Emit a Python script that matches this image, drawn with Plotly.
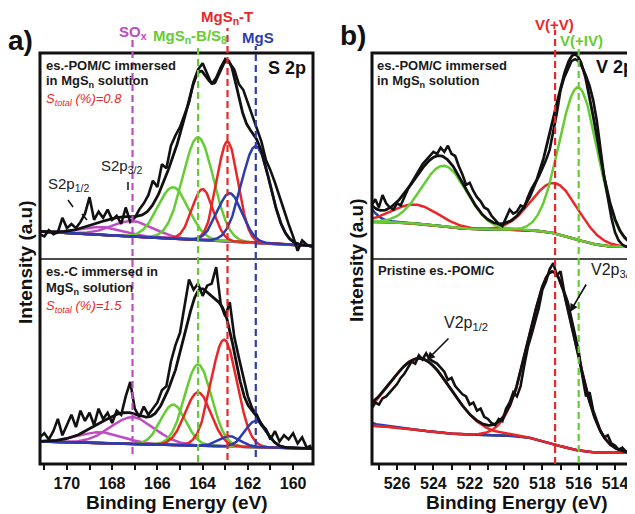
import numpy as np
import plotly.graph_objects as go

W, H = 635, 514
OFF = 8  # the page body margin shifts the figure by 8 px right and down

# ---------------- data ----------------
# Panel a) S 2p : raw spectra sampled every 0.2 eV from 171.2 to 159.2 eV
a_energy = np.linspace(171.2, 159.2, 61)
a_top_raw = [12, 11, 14, 12, 13, 20, 15, 17, 15, 18, 22, 30, 19, 23, 20, 24, 19, 21, 17, 25,
             18, 20, 24, 27, 31, 38, 35, 46, 44, 55, 60, 64, 70, 76, 86, 92, 95, 90, 85, 88,
             93, 97, 95, 92, 85, 82, 76, 70, 64, 57, 48, 43, 37, 30, 24, 17, 11, 4, 9, 7, 6]
a_bot_raw = [13, 15, 12, 16, 22, 14, 19, 24, 18, 26, 21, 25, 19, 27, 22, 25, 20, 26, 24, 33,
             40, 27, 23, 28, 24, 27, 30, 36, 38, 50, 58, 64, 76, 90, 85, 88, 82, 87, 88, 96,
             78, 72, 79, 62, 52, 43, 33, 27, 24, 19, 17, 12, 16, 11, 14, 12, 15, 10, 13, 8, 9]
# linear background (value at 171.2 eV, value at 159.2 eV)
a_top_bg = [13.3, 6.3]
a_bot_bg = [11.0, 7.5]
# fitted components: (centre eV, height above background, FWHM eV)
a_top_sox = [(167.1, 7.5, 2.2), (168.4, 3.8, 2.2)]
a_top_mgsn_b = [(164.2, 49.8, 1.6), (165.3, 25.0, 1.6)]
a_top_mgsn_t = [(162.9, 48.5, 1.1), (164.0, 24.8, 1.1)]
a_top_mgs = [(161.65, 47.0, 1.5), (162.8, 23.5, 1.3)]
a_bot_sox = [(167.1, 13.0, 2.3), (168.5, 5.3, 2.3)]
a_bot_mgsn_b = [(164.2, 39.6, 1.4), (165.3, 19.7, 1.3)]
a_bot_mgsn_t = [(163.05, 52.0, 1.35), (164.2, 26.0, 1.35)]
a_bot_mgs = [(161.65, 12.8, 1.1), (162.8, 5.0, 1.1)]
a_markers = [167.1, 164.2, 162.9, 161.65]   # SOx, MgSn-B/S8, MgSn-T, MgS

# Panel b) V 2p : raw spectra sampled every 0.2 eV from 527.4 to 513.0 eV
b_energy = np.linspace(527.4, 513.0, 73)
b_top_raw = [26, 29, 25, 31, 27, 25, 24, 27, 26, 30, 34, 37, 40, 43, 46, 48, 50, 52, 51, 54,
             52, 55, 51, 50, 45, 41, 36, 37, 33, 30, 28, 25, 24, 21, 19, 17, 16, 20, 24, 22,
             23, 26, 25, 30, 34, 37, 40, 44, 48, 53, 62, 71, 82, 88, 92, 96, 97, 96, 93, 89,
             84, 77, 67, 52, 40, 30, 20, 13, 9, 7, 6, 6, 5]
b_bot_raw = [27, 30, 29, 32, 33, 35, 37, 39, 42, 44, 47, 50, 49, 53, 51, 54, 51, 50, 49, 47,
             45, 41, 42, 38, 36, 34, 33, 29, 30, 26, 27, 23, 22, 20, 19, 22, 21, 27, 30, 35,
             33, 38, 48, 57, 63, 69, 76, 85, 89, 95, 98, 92, 94, 84, 79, 71, 63, 55, 43, 33,
             35, 26, 21, 16, 13, 14, 10, 9, 7, 8, 6, 5, 5]
# Shirley background (high-BE level, low-BE level)
b_top_bg = [18.0, 5.8]
b_bot_bg = [18.6, 5.4]
b_top_v5 = [(517.3, 24.4, 3.0), (525.0, 9.2, 3.0)]
b_top_v4 = [(516.0, 74.0, 2.5), (523.4, 29.5, 2.9)]
b_top_other = [(528.2, 12.0, 1.65)]
b_bot_v5 = [(517.4, 84.0, 3.0), (524.7, 35.0, 4.0)]
b_bot_other = [(528.2, 3.0, 1.6)]
b_markers = [517.3, 516.0]   # V(+V), V(+IV)

a_range = [171.19, 159.12]
b_range = [527.38, 512.9]

# ---------------- styles ----------------
BLACK = '#111111'
GREEN = '#66CC33'
RED = '#E82828'
BLUE = '#2E3DAE'
MAGENTA = '#BE4CC4'
FONT = 'Arial, "Liberation Sans", sans-serif'


def gauss(x, comp):
    c, h, w = comp
    return h * np.exp(-4 * np.log(2) * (x - c) ** 2 / w ** 2)


def px(x):
    return (x - OFF) / W


def py(y):
    return 1 - (y - OFF) / H


fig = go.Figure()


def add_panel(xa, ya, xs, bg, groups, raw_x, raw_y):
    peaks_total = np.zeros_like(xs)
    for comps, _ in groups:
        for comp in comps:
            peaks_total += gauss(xs, comp)
    fig.add_trace(go.Scatter(x=xs, y=bg, mode='lines', line=dict(color=BLACK, width=2.4),
                             xaxis=xa, yaxis=ya, showlegend=False, hoverinfo='skip'))
    for comps, col in groups:
        for comp in comps:
            fig.add_trace(go.Scatter(x=xs, y=bg + gauss(xs, comp), mode='lines',
                                     line=dict(color=col, width=2.5), xaxis=xa, yaxis=ya,
                                     showlegend=False, hoverinfo='skip'))
    fig.add_trace(go.Scatter(x=raw_x, y=raw_y, mode='lines', line=dict(color=BLACK, width=2.6),
                             xaxis=xa, yaxis=ya, showlegend=False, hoverinfo='skip'))
    fig.add_trace(go.Scatter(x=xs, y=bg + peaks_total, mode='lines',
                             line=dict(color=BLACK, width=2.8), xaxis=xa, yaxis=ya,
                             showlegend=False, hoverinfo='skip'))


def linear_bg(xs, ends, lo_e, hi_e):
    return ends[1] + (ends[0] - ends[1]) * (xs - lo_e) / (hi_e - lo_e)


def shirley_bg(xs, ends, groups):
    # xs ascending
    p = np.zeros_like(xs)
    for comps, _ in groups:
        for comp in comps:
            p += gauss(xs, comp)
    cum = np.cumsum(p)
    return ends[1] + (ends[0] - ends[1]) * cum / cum[-1]


xa_s = np.linspace(159.12, 171.19, 500)
xb_s = np.linspace(512.9, 527.38, 500)

g_at = [(a_top_sox, MAGENTA), (a_top_mgsn_b, GREEN), (a_top_mgsn_t, RED), (a_top_mgs, BLUE)]
g_ab = [(a_bot_sox, MAGENTA), (a_bot_mgsn_b, GREEN), (a_bot_mgsn_t, RED), (a_bot_mgs, BLUE)]
g_bt = [(b_top_other, BLUE), (b_top_v5, RED), (b_top_v4, GREEN)]
g_bb = [(b_bot_other, BLUE), (b_bot_v5, RED)]

add_panel('x', 'y', xa_s, linear_bg(xa_s, a_top_bg, 159.2, 171.2), g_at, a_energy, a_top_raw)
add_panel('x2', 'y2', xa_s, linear_bg(xa_s, a_bot_bg, 159.2, 171.2), g_ab, a_energy, a_bot_raw)
add_panel('x3', 'y3', xb_s, shirley_bg(xb_s, b_top_bg, g_bt), g_bt, b_energy, b_top_raw)
add_panel('x4', 'y4', xb_s, shirley_bg(xb_s, b_bot_bg, g_bb), g_bb, b_energy, b_bot_raw)

# ---------------- axes ----------------
a_dom = [px(40), px(313)]
b_dom = [px(372), px(635)]
top_dom = [py(259), py(53)]
bot_dom = [py(464), py(259)]


def xaxis(dom, rng, anchor, labels):
    d = dict(domain=dom, range=rng, anchor=anchor, showgrid=False, zeroline=False,
             showline=False, fixedrange=True)
    if labels:
        d.update(ticks='outside', ticklen=5, tickwidth=2, tickcolor=BLACK, dtick=2, tick0=160,
                 tickfont=dict(family=FONT, size=16, color=BLACK, weight='bold'),
                 minor=dict(dtick=1, ticks='outside', ticklen=5, tickwidth=2, tickcolor=BLACK))
    else:
        d.update(showticklabels=False, ticks='')
    return d


def yaxis(dom, anchor):
    return dict(domain=dom, range=[0, 100], anchor=anchor, visible=False, fixedrange=True)


fig.update_layout(
    xaxis=xaxis(a_dom, a_range, 'y', False),
    xaxis2=xaxis(a_dom, a_range, 'y2', True),
    xaxis3=xaxis(b_dom, b_range, 'y3', False),
    xaxis4=xaxis(b_dom, b_range, 'y4', True),
    yaxis=yaxis(top_dom, 'x'),
    yaxis2=yaxis(bot_dom, 'x2'),
    yaxis3=yaxis(top_dom, 'x3'),
    yaxis4=yaxis(bot_dom, 'x4'),
)

shapes = []
# frames and separators
for x0, x1 in [(40, 313), (372, 635)]:
    shapes.append(dict(type='rect', xref='paper', yref='paper', x0=px(x0), x1=px(x1),
                       y0=py(464), y1=py(53), line=dict(color=BLACK, width=3)))
    shapes.append(dict(type='line', xref='paper', yref='paper', x0=px(x0), x1=px(x1),
                       y0=py(259), y1=py(259), line=dict(color=BLACK, width=1.6)))

# vertical dashed markers
a_mark_cols = [MAGENTA, GREEN, RED, BLUE]
a_mark_y = [(40, 454), (46, 462), (28, 460), (46, 457)]
for e, col, (yt, yb) in zip(a_markers, a_mark_cols, a_mark_y):
    shapes.append(dict(type='line', xref='x', yref='paper', x0=e, x1=e, y0=py(yb), y1=py(yt),
                       line=dict(color=col, width=2.2, dash='7px,4px')))
b_mark_cols = [RED, GREEN]
b_mark_y = [(30, 464), (47, 463)]
for e, col, (yt, yb) in zip(b_markers, b_mark_cols, b_mark_y):
    shapes.append(dict(type='line', xref='x3', yref='paper', x0=e, x1=e, y0=py(yb), y1=py(yt),
                       line=dict(color=col, width=2.2, dash='7px,4px')))

# small pointer marks for S2p labels
for (x0, y0, x1, y1) in [(68, 200, 73, 207), (82, 214, 87, 220), (128, 182, 128, 190)]:
    shapes.append(dict(type='line', xref='paper', yref='paper', x0=px(x0), y0=py(y0),
                       x1=px(x1), y1=py(y1), line=dict(color=BLACK, width=1.5)))

fig.update_layout(shapes=shapes)

ann = []


def T(text, x, y, size, color='#1a1a1a', weight='bold', style='normal', xanchor='left',
      angle=0):
    ann.append(dict(text=text, x=px(x), y=py(y), xref='paper', yref='paper', showarrow=False,
                    xanchor=xanchor, yanchor='middle', textangle=angle,
                    font=dict(family=FONT, size=size, color=color, weight=weight, style=style)))


T('a)', 6, 40, 28, BLACK)
T('b)', 338, 35, 28, BLACK)
T('SO<sub>x</sub>', 117, 32, 15, MAGENTA)
T('MgS<sub>n</sub>-B/S<sub>8</sub>', 151, 36, 15, GREEN)
T('MgS<sub>n</sub>-T', 199, 17, 15, RED)
T('MgS', 240, 37, 15, BLUE)
T('V(+V)', 533, 24, 15, RED)
T('V(+IV)', 558, 40, 15, GREEN)
T('S 2p', 266, 68, 18, BLACK)
T('V 2p', 594, 67, 18, BLACK)

T('es.-POM/C immersed', 44, 65, 13)
T('in MgS<sub>n</sub> solution', 44, 82, 13)
T('S<sub>total</sub> (%)=0.8', 44, 99, 13, RED, 'normal', 'italic')
T('es.-C immersed in', 44, 271, 13)
T('MgS<sub>n</sub> solution', 44, 288, 13)
T('S<sub>total</sub> (%)=1.5', 44, 306, 13, RED, 'normal', 'italic')
T('es.-POM/C immersed', 375, 65, 13)
T('in MgS<sub>n</sub> solution', 375, 82, 13)
T('Pristine es.-POM/C', 376, 270, 13)

T('S2p<sub>1/2</sub>', 46, 184, 15, '#222222', 'normal')
T('S2p<sub>3/2</sub>', 99, 166, 15, '#222222', 'normal')
T('V2p<sub>3/2</sub>', 589, 270, 16, '#222222', 'normal')
T('V2p<sub>1/2</sub>', 442, 323, 16, '#222222', 'normal')

T('Intensity (a.u)', 25, 262, 19, BLACK, xanchor='center', angle=-90)
T('Intensity (a.u)', 356, 260, 19, BLACK, xanchor='center', angle=-90)
T('Binding Energy (eV)', 177, 502, 19, BLACK, xanchor='center')
T('Binding Energy (eV)', 517, 502, 19, BLACK, xanchor='center')

# arrows
for hx, hy, tx, ty in [(570, 312, 587, 283), (427, 360, 450, 337)]:
    ann.append(dict(text='', x=px(hx), y=py(hy), xref='paper', yref='paper', showarrow=True,
                    ax=tx - hx, ay=ty - hy, arrowhead=2, arrowsize=1, arrowwidth=1.6,
                    arrowcolor=BLACK))

fig.update_layout(annotations=ann, width=W, height=H, margin=dict(l=0, r=0, t=0, b=0),
                  paper_bgcolor='white', plot_bgcolor='white', showlegend=False)

fig.write_html('out.html')
